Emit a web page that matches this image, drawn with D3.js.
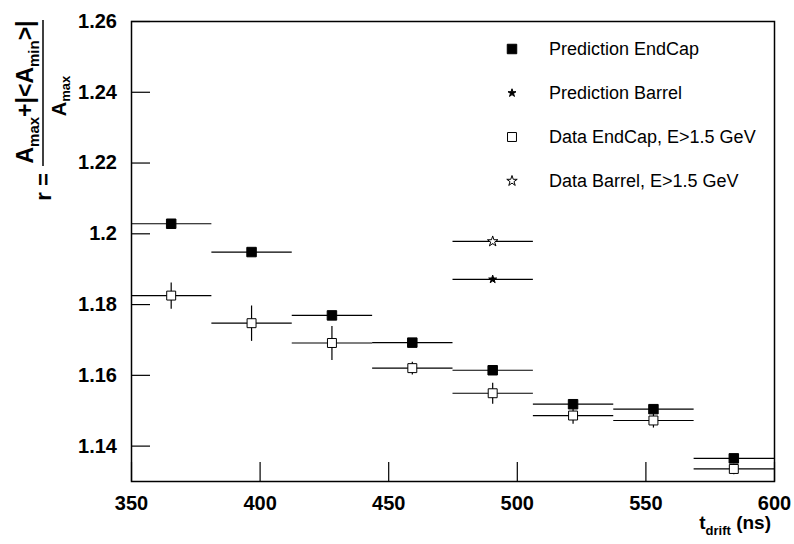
<!DOCTYPE html>
<html>
<head>
<meta charset="utf-8">
<script src="https://cdn.jsdelivr.net/npm/d3@7"></script>
<style>
  body { margin: 0; background: #fff; }
  svg { display: block; }
  .tick-label { font-family: "Liberation Sans", Arial, sans-serif; font-weight: bold; font-size: 20px; }
  .legend-text { font-family: "Liberation Sans", Arial, sans-serif; font-size: 18px; }
  .title { font-family: "Liberation Sans", Arial, sans-serif; font-weight: bold; }
</style>
</head>
<body>
<div id="chart"></div>
<script>
var svgWidth = 794;
var svgHeight = 544;

// plot frame in pixels
var margin = { top: 21, right: 20, bottom: 63, left: 131 };
var width = svgWidth - margin.left - margin.right;
var height = svgHeight - margin.top - margin.bottom;

// data (t_drift bins of 31.25 ns from 350 to 600)
var binCenters = [365.625, 396.875, 428.125, 459.375, 490.625, 521.875, 553.125, 584.375];
var binHalfWidth = 15.625;
var predEndCap = [1.2027, 1.1947, 1.1768, 1.1691, 1.1613, 1.1517, 1.1503, 1.1364];
var dataEndCap = [1.1824, 1.1746, 1.1690, 1.1619, 1.1548, 1.1485, 1.1471, 1.1334];
var dataEndCapErr = [0.0037, 0.0050, 0.0048, 0.0018, 0.0030, 0.0023, 0.0020, 0.0015];
var barrelBin = [490.625];
var predBarrel = [1.1870];
var dataBarrel = [1.1977];
var dataBarrelErr = [0.0008];

var xTicks = [350, 400, 450, 500, 550, 600];
var yTicks = [1.14, 1.16, 1.18, 1.2, 1.22, 1.24, 1.26];
var legendLabels = ["Prediction EndCap", "Prediction Barrel", "Data EndCap, E>1.5 GeV", "Data Barrel, E>1.5 GeV"];

var svg = d3.select("#chart")
  .append("svg")
  .attr("width", svgWidth)
  .attr("height", svgHeight);

svg.append("rect")
  .attr("width", svgWidth)
  .attr("height", svgHeight)
  .attr("fill", "#fff");

var chartGroup = svg.append("g")
  .attr("transform", `translate(${margin.left}, ${margin.top})`);

var xScale = d3.scaleLinear().domain([350, 600]).range([0, width]);
var yScale = d3.scaleLinear().domain([1.13, 1.26]).range([height, 0]);

// frame
chartGroup.append("rect")
  .attr("x", 0.5)
  .attr("y", 0.5)
  .attr("width", width)
  .attr("height", height)
  .attr("fill", "none")
  .attr("stroke", "#000")
  .attr("stroke-width", 1.5);

// axes: ticks point into the frame, labels outside
var xAxis = d3.axisBottom(xScale)
  .tickValues(xTicks)
  .tickSize(-19)
  .tickPadding(29)
  .tickFormat(d3.format("d"));

var yAxis = d3.axisLeft(yScale)
  .tickValues(yTicks)
  .tickSize(-19)
  .tickPadding(14)
  .tickFormat(function(d) { return String(+d.toFixed(2)); });

var gx = chartGroup.append("g")
  .attr("transform", `translate(0, ${height})`)
  .call(xAxis);

var gy = chartGroup.append("g")
  .call(yAxis);

[gx, gy].forEach(function(g) {
  g.select(".domain").remove();
  g.selectAll(".tick line").attr("stroke", "#000").attr("stroke-width", 1.2);
  g.selectAll(".tick text")
    .attr("class", "tick-label")
    .attr("fill", "#000");
});
gx.selectAll(".tick text").attr("dy", "0");

// horizontal (bin width) error bars
function hBars(values, xs) {
  chartGroup.append("g")
    .selectAll("line")
    .data(values)
    .enter()
    .append("line")
    .attr("x1", (d, i) => xScale(xs[i] - binHalfWidth))
    .attr("x2", (d, i) => xScale(xs[i] + binHalfWidth))
    .attr("y1", d => yScale(d))
    .attr("y2", d => yScale(d))
    .attr("stroke", "#000")
    .attr("stroke-width", 1.2);
}

function vBars(values, errs, xs) {
  chartGroup.append("g")
    .selectAll("line")
    .data(values)
    .enter()
    .append("line")
    .attr("x1", (d, i) => xScale(xs[i]))
    .attr("x2", (d, i) => xScale(xs[i]))
    .attr("y1", (d, i) => yScale(d - errs[i]))
    .attr("y2", (d, i) => yScale(d + errs[i]))
    .attr("stroke", "#000")
    .attr("stroke-width", 1.2);
}

hBars(predEndCap, binCenters);
hBars(dataEndCap, binCenters);
hBars(predBarrel, barrelBin);
hBars(dataBarrel, barrelBin);
vBars(dataEndCap, dataEndCapErr, binCenters);
vBars(dataBarrel, dataBarrelErr, barrelBin);

var filledSquare = d3.symbol().type(d3.symbolSquare).size(90);
var openSquare = d3.symbol().type(d3.symbolSquare).size(80);
var filledStar = d3.symbol().type(d3.symbolStar).size(20);
var openStar = d3.symbol().type(d3.symbolStar).size(34);

function markers(values, xs, sym, fill) {
  chartGroup.append("g")
    .selectAll("path")
    .data(values)
    .enter()
    .append("path")
    .attr("transform", (d, i) => `translate(${xScale(xs[i])}, ${yScale(d)})`)
    .attr("d", sym)
    .attr("fill", fill)
    .attr("stroke", "#000")
    .attr("stroke-width", 1);
}

markers(predEndCap, binCenters, filledSquare, "#000");
markers(dataEndCap, binCenters, openSquare, "#fff");
markers(predBarrel, barrelBin, filledStar, "#000");
markers(dataBarrel, barrelBin, openStar, "#fff");

// legend
var legendSymbols = [[filledSquare, "#000"], [filledStar, "#000"], [openSquare, "#fff"], [openStar, "#fff"]];
var legend = svg.append("g");
legend.selectAll("path")
  .data(legendLabels)
  .enter()
  .append("path")
  .attr("transform", (d, i) => `translate(512, ${49 + i * 44})`)
  .attr("d", (d, i) => legendSymbols[i][0]())
  .attr("fill", (d, i) => legendSymbols[i][1])
  .attr("stroke", "#000");

legend.selectAll("text")
  .data(legendLabels)
  .enter()
  .append("text")
  .attr("class", "legend-text")
  .attr("x", 549)
  .attr("y", (d, i) => 49 + i * 44)
  .attr("dy", "0.35em")
  .text(d => d);

// y axis title: r = (A_max + |<A_min>|) / A_max
var yTitle = svg.append("g")
  .attr("class", "title")
  .attr("transform", "rotate(-90)");

var num = yTitle.append("text")
  .attr("x", -92)
  .attr("y", 33)
  .attr("text-anchor", "middle")
  .style("font-size", "23px");
num.append("tspan").text("A");
num.append("tspan").attr("dy", 6).style("font-size", "15px").text("max");
num.append("tspan").attr("dy", -6).text("+|<A");
num.append("tspan").attr("dy", 6).style("font-size", "15px").text("min");
num.append("tspan").attr("dy", -6).text(">|");

yTitle.append("line")
  .attr("x1", -166)
  .attr("x2", -20)
  .attr("y1", 43)
  .attr("y2", 43)
  .attr("stroke", "#000")
  .attr("stroke-width", 1.5);

var den = yTitle.append("text")
  .attr("x", -96)
  .attr("y", 66)
  .attr("text-anchor", "middle")
  .style("font-size", "20px");
den.append("tspan").text("A");
den.append("tspan").attr("dy", 4).style("font-size", "13px").text("max");

yTitle.append("text")
  .attr("x", -187)
  .attr("y", 51)
  .attr("text-anchor", "middle")
  .style("font-size", "22px")
  .text("r =");

// x axis title
var xTitle = svg.append("text")
  .attr("class", "title")
  .attr("x", 771)
  .attr("y", 529)
  .attr("text-anchor", "end")
  .style("font-size", "19px");
xTitle.append("tspan").text("t");
xTitle.append("tspan").attr("dy", 6).style("font-size", "13px").text("drift");
xTitle.append("tspan").attr("dy", -6).text(" (ns)");
</script>
</body>
</html>
